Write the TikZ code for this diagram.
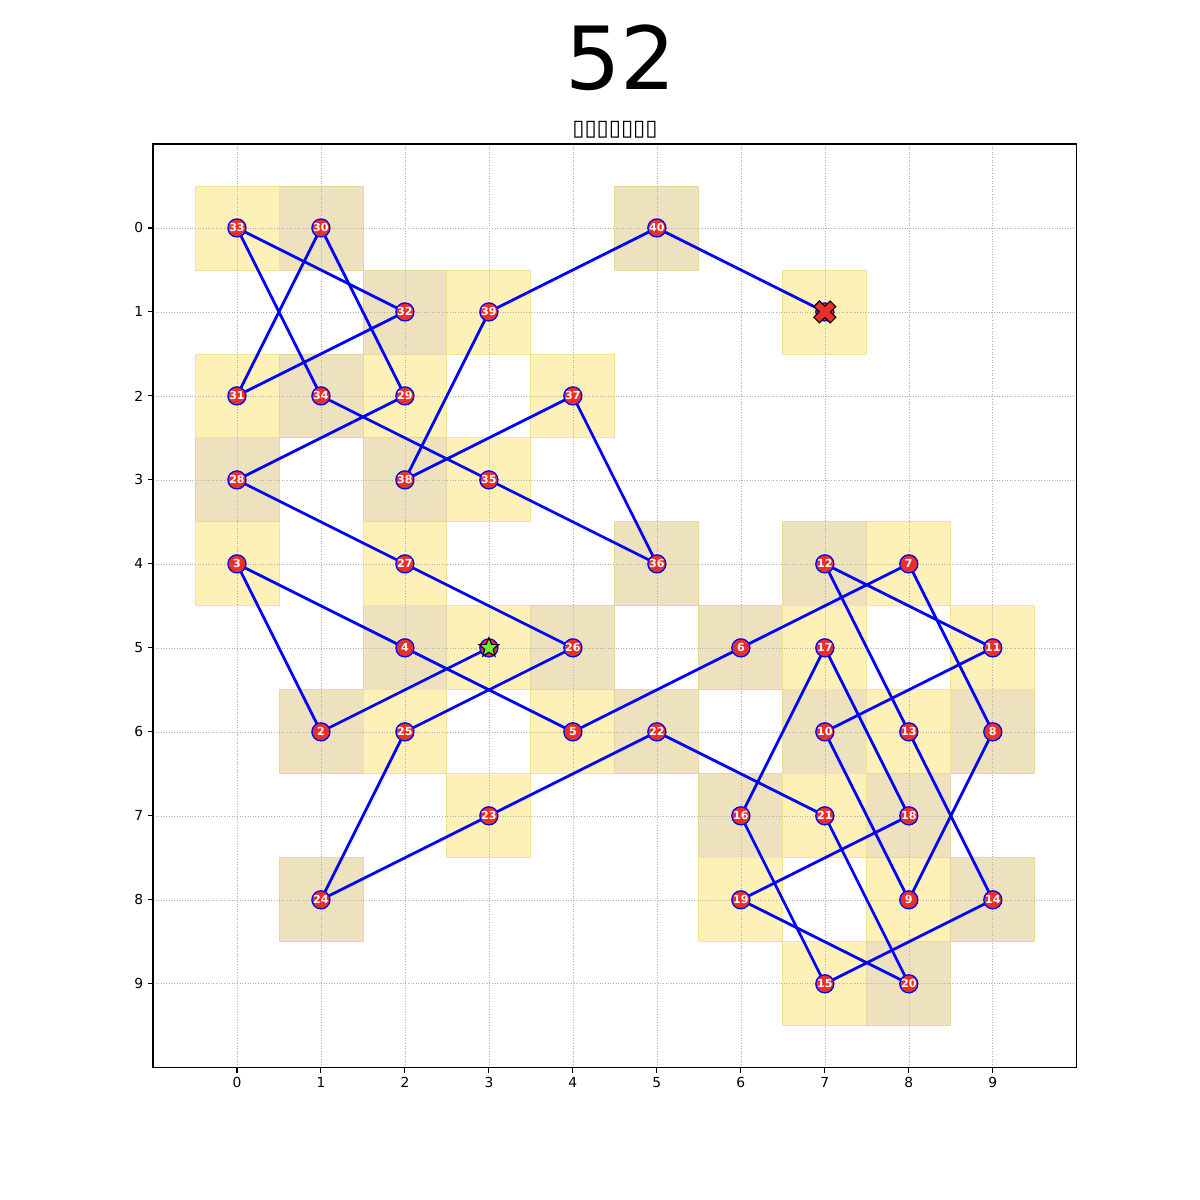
\documentclass[tikz,border=0pt]{standalone}
\usepackage{fontspec}
\setmainfont{DejaVu Sans}
\usetikzlibrary{shapes.geometric}
\definecolor{ptred}{RGB}{232,48,40}
\definecolor{sqyel}{RGB}{253,241,184}
\definecolor{sqyeledge}{RGB}{246,226,150}
\definecolor{sqtan}{RGB}{238,226,190}
\definecolor{sqtanedge}{RGB}{232,214,160}
\definecolor{starg}{RGB}{110,240,50}
\definecolor{gridgray}{RGB}{176,176,176}
\pgfdeclarelayer{bg}
\pgfsetlayers{bg,main}
\tikzset{
  sqY/.style={fill=sqyel,draw=sqyeledge,line width=0.6pt},
  sqT/.style={fill=sqtan,draw=sqtanedge,line width=0.6pt},
  gridl/.style={draw=gridgray,line width=0.45pt,dash pattern=on 0.7pt off 1.2pt},
  conn/.style={draw=blue,line width=2pt},
  pt/.style={circle,fill=ptred,draw=blue,line width=0.9pt,minimum size=0.46cm,inner sep=0pt,
    text=white,font=\fontsize{8}{8}\selectfont\bfseries},
  startmark/.style={star,star points=5,star point ratio=2.3,fill=starg,draw=black,line width=0.8pt,
    minimum size=0.52cm,inner sep=0pt},
  ticklab/.style={font=\fontsize{10}{10}\selectfont,inner sep=3pt},
  axframe/.style={draw=black,line width=0.8pt}
}
\begin{document}
\begin{tikzpicture}[x=0.0254cm,y=-0.0254cm]
\useasboundingbox (0,0) rectangle (1200,1200);
\begin{pgfonlayer}{bg}
\fill[white] (0,0) rectangle (1200,1200);
\end{pgfonlayer}
\node[font=\fontsize{63}{63}\selectfont,inner sep=0pt] (title) at (621,58) {52};
\node[font=\fontsize{16}{16}\selectfont,inner sep=0pt] (subtitle) at (615,130) {▯▯▯▯▯▯▯};
\begin{scope}[x=2.1336cm,y=-2.1336cm,shift={(6.0198cm,-5.7912cm)}]
  \def\cells{1/3/5,2/1/6,3/0/4,4/2/5,5/4/6,6/6/5,7/8/4,8/9/6,9/8/8,10/7/6,11/9/5,12/7/4,13/8/6,14/9/8,15/7/9,16/6/7,17/7/5,18/8/7,19/6/8,20/8/9,21/7/7,22/5/6,23/3/7,24/1/8,25/2/6,26/4/5,27/2/4,28/0/3,29/2/2,30/1/0,31/0/2,32/2/1,33/0/0,34/1/2,35/3/3,36/5/4,37/4/2,38/2/3,39/3/1,40/5/0,41/7/1}
  \begin{pgfonlayer}{bg}
    \foreach \i/\c/\r in \cells {
      \pgfmathtruncatemacro\pq{mod(\c+\r,2)}
      \ifnum\pq=0
        \filldraw[sqY] (\c-0.5,\r-0.5) rectangle (\c+0.5,\r+0.5);
      \else
        \filldraw[sqT] (\c-0.5,\r-0.5) rectangle (\c+0.5,\r+0.5);
      \fi
    }
    \foreach \k in {0,...,9} {
      \draw[gridl] (\k,-1) -- (\k,10);
      \draw[gridl] (-1,\k) -- (10,\k);
    }
  \end{pgfonlayer}
  \foreach \i/\c/\r in \cells {
    \ifnum\i=1
      \node[pt] (n\i) at (\c,\r) {};
    \else\ifnum\i=41
      \node[pt] (n\i) at (\c,\r) {};
    \else
      \node[pt] (n\i) at (\c,\r) {\i};
    \fi\fi
  }
  \begin{pgfonlayer}{bg}
    \foreach \i [evaluate=\i as \j using int(\i+1)] in {1,...,40} {
      \draw[conn] (n\i.center) -- (n\j.center);
    }
  \end{pgfonlayer}
  \node[startmark] (startstar) at (n1.center) {};
  \begin{scope}[shift={(n41.center)},rotate=45,x=0.0254cm,y=0.0254cm]
    \filldraw[fill=ptred,draw=black,line width=0.8pt]
      (-4,11.5) -- (4,11.5) -- (4,4) -- (11.5,4) -- (11.5,-4) -- (4,-4) -- (4,-11.5)
      -- (-4,-11.5) -- (-4,-4) -- (-11.5,-4) -- (-11.5,4) -- (-4,4) -- cycle;
  \end{scope}
  \draw[axframe] (-1,-1) rectangle (10,10);
  \foreach \k in {0,...,9} {
    \draw[line width=0.8pt] (\k,10) -- (\k,10.06) node[below,ticklab] {\k};
    \draw[line width=0.8pt] (-1,\k) -- (-1.06,\k) node[left,ticklab] {\k};
  }
\end{scope}
\end{tikzpicture}
\end{document}
